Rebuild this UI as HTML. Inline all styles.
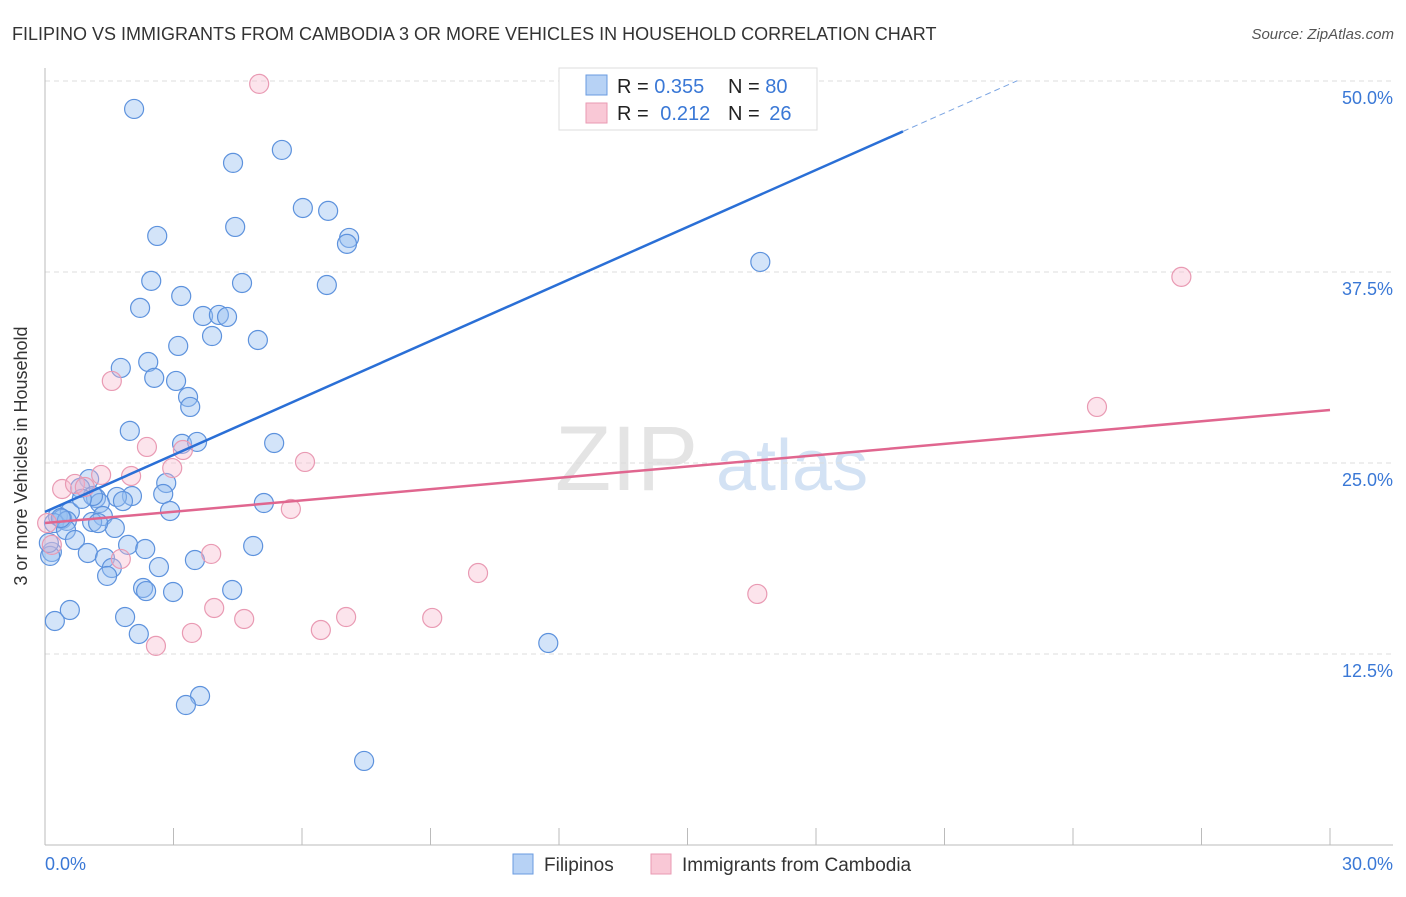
<!DOCTYPE html>
<html><head><meta charset="utf-8"><style>
body{margin:0;background:#fff;font-family:"Liberation Sans",sans-serif;}
svg text{font-family:"Liberation Sans",sans-serif;}
</style></head><body>
<svg width="1406" height="892" id="chart">
<text x="12" y="40" font-size="18" fill="#333">FILIPINO VS IMMIGRANTS FROM CAMBODIA 3 OR MORE VEHICLES IN HOUSEHOLD CORRELATION CHART</text>
<text x="1394" y="39" font-size="15" fill="#555" text-anchor="end" font-style="italic">Source: ZipAtlas.com</text>
<g>
<text x="555" y="490" font-size="92" fill="#e4e4e4" font-family="Liberation Serif,serif">ZIP</text>
<text x="716" y="490" font-size="72" fill="#d3e2f4">atlas</text>
</g>
<g id="grid"></g><g id="axes"></g><g id="pts"></g><g id="lines"></g>
<text x="27" y="456" font-size="18" fill="#333" transform="rotate(-90 27 456)" text-anchor="middle">3 or more Vehicles in Household</text>
<g>
<rect x="559" y="68" width="258" height="62" fill="#fff" stroke="#ddd"/>
<rect x="586" y="75" width="21" height="20" fill="#b7d2f5" stroke="#6a9be0"/>
<rect x="586" y="103" width="21" height="20" fill="#f9c8d6" stroke="#e99ab3"/>
<text x="617" y="93" font-size="20" fill="#222">R = <tspan fill="#3a78d6">0.355</tspan></text>
<text x="728" y="93" font-size="20" fill="#222">N = <tspan fill="#3a78d6">80</tspan></text>
<text x="617" y="120" font-size="20" fill="#222">R = <tspan fill="#3a78d6" dx="6">0.212</tspan></text>
<text x="728" y="120" font-size="20" fill="#222">N = <tspan fill="#3a78d6" dx="4">26</tspan></text>
</g>
<g>
<rect x="513" y="854" width="20" height="20" fill="#b7d2f5" stroke="#6a9be0"/>
<text x="544" y="871" font-size="19" fill="#333">Filipinos</text>
<rect x="651" y="854" width="20" height="20" fill="#f9c8d6" stroke="#e99ab3"/>
<text x="682" y="871" font-size="19" fill="#333">Immigrants from Cambodia</text>
</g>
</svg>
<script>
const blueX=[2.08,5.53,4.39,6.02,6.61,2.62,4.44,7.10,7.05,16.70,2.48,4.60,6.58,3.18,2.22,3.69,4.06,4.25,3.90,3.11,4.97,1.77,2.41,2.55,3.06,3.34,3.39,1.98,3.20,3.55,5.35,1.03,2.83,0.82,2.76,2.03,1.68,1.19,1.28,1.82,5.11,2.92,0.30,0.58,0.40,0.21,0.51,1.35,1.10,1.63,0.49,0.70,1.94,4.86,0.16,1.00,0.12,1.40,3.50,1.56,2.66,1.45,2.29,2.36,4.37,2.99,0.58,0.23,1.87,2.19,11.75,3.62,3.29,7.45,1.12,0.37,0.86,2.34,1.24,0.09];
const blueY=[48.17,45.49,44.64,41.69,41.5,39.86,40.45,39.73,39.34,38.16,36.92,36.78,36.65,35.93,35.15,34.62,34.69,34.56,33.31,32.66,33.05,31.22,31.61,30.57,30.37,29.32,28.67,27.10,26.25,26.38,26.31,23.95,23.69,23.37,22.97,22.84,22.78,22.71,22.38,22.51,22.38,21.86,21.53,21.79,21.34,21.07,21.21,21.53,21.14,20.75,20.62,19.96,19.64,19.57,19.18,19.11,18.92,18.78,18.65,18.13,18.19,17.61,16.82,16.62,16.69,16.56,15.38,14.66,14.92,13.81,13.22,9.75,9.16,5.50,22.84,21.40,22.65,19.37,21.07,19.77];
const pinkX=[5.00,26.53,1.56,24.56,2.38,3.22,6.07,2.97,2.01,1.31,0.40,0.70,0.93,5.74,0.05,0.16,3.88,1.77,10.11,16.63,3.95,4.65,7.03,9.04,6.44,3.43,2.59];
const pinkY=[49.81,37.18,30.37,28.67,26.05,25.85,25.07,24.67,24.15,24.22,23.30,23.63,23.43,21.99,21.07,19.64,19.05,18.72,17.80,16.43,15.51,14.79,14.92,14.86,14.07,13.88,13.03];
const blueTrend=[21.8,46.7,20.03,22.7]; // y at x=0, y at solid end x, solid end x, dashed end x
const pinkTrend=[21.07,28.47];
const yTicks=[12.5,25.0,37.5,50.0];
const yTickLabels=["12.5%","25.0%","37.5%","50.0%"];
const xTickLabels=["0.0%","30.0%"];
const NS="http://www.w3.org/2000/svg";
const X0=45,X1=1330,Y0=845,PY=191/12.5;
const sx=v=>X0+(v/30)*(X1-X0);
const sy=v=>Y0-v*PY;
function mk(tag,attrs,parent){const e=document.createElementNS(NS,tag);for(const k in attrs)e.setAttribute(k,attrs[k]);document.getElementById(parent).appendChild(e);return e;}
yTicks.forEach((t,i)=>{
 const l=mk('line',{x1:45,x2:1393,y1:sy(t),y2:sy(t),stroke:'#ddd','stroke-dasharray':'5,4'},'grid');
 
 
 const tx=mk('text',{x:1393,y:sy(t)+23,'font-size':18,fill:'#3a78d6','text-anchor':'end'},'grid');
 tx.textContent=yTickLabels[i];
 
 
});
let a=mk('line',{x1:45,x2:45,y1:68,y2:845,stroke:'#bbb'},'axes');


a=mk('line',{x1:45,x2:1393,y1:845,y2:845,stroke:'#bbb'},'axes');


for(let i=0;i<=10;i++){const v=i*3;
 const t=mk('line',{x1:sx(v),x2:sx(v),y1:828,y2:845,stroke:'#bbb'},'axes');
 
 
}
[[0,45,'start'],[1,1393,'end']].forEach(([i,x,an])=>{
 const t=mk('text',{x:x,y:870,'font-size':18,fill:'#3a78d6','text-anchor':an},'axes');
 t.textContent=xTickLabels[i];
 
 
});
blueX.forEach((x,i)=>{
 const c=mk('circle',{cx:sx(x),cy:sy(blueY[i]),r:9.5,fill:'rgba(150,190,240,0.42)',stroke:'#5d92dd','stroke-width':1.2},'pts');
 
 
});
pinkX.forEach((x,i)=>{
 const c=mk('circle',{cx:sx(x),cy:sy(pinkY[i]),r:9.5,fill:'rgba(247,185,204,0.38)',stroke:'#e99ab3','stroke-width':1.2},'pts');
 
 
});
const bs=(blueTrend[1]-blueTrend[0])/blueTrend[2];
let l=mk('line',{x1:sx(0),y1:sy(blueTrend[0]),x2:sx(blueTrend[2]),y2:sy(blueTrend[1]),stroke:'#2a6fd6','stroke-width':2.5},'lines');


l=mk('line',{x1:sx(blueTrend[2]),y1:sy(blueTrend[1]),x2:sx(blueTrend[3]),y2:sy(blueTrend[0]+bs*blueTrend[3]),stroke:'#7aa4e2','stroke-width':1,'stroke-dasharray':'6,4'},'lines');


l=mk('line',{x1:sx(0),y1:sy(pinkTrend[0]),x2:sx(30),y2:sy(pinkTrend[1]),stroke:'#e0668f','stroke-width':2.5},'lines');


</script>
</body></html>
